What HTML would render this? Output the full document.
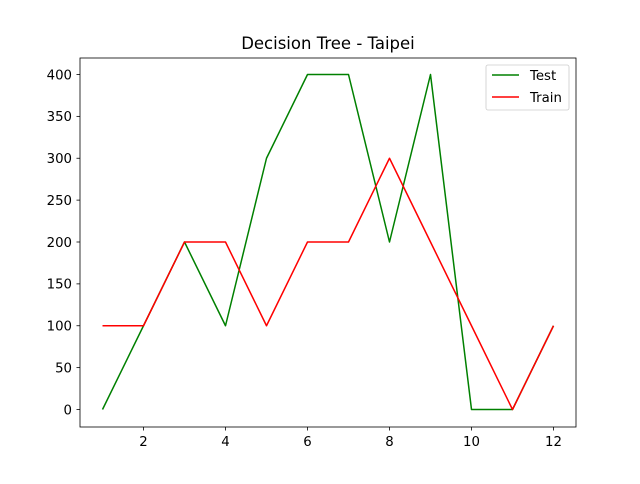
<!DOCTYPE html>
<html><head><meta charset="utf-8"><style>
html,body{margin:0;padding:0;background:#fff;}
svg text{font-family:"DejaVu Sans","Liberation Sans",sans-serif;}
</style></head><body>
<svg id="chart" width="640" height="479" viewBox="0 0 640 479" xmlns="http://www.w3.org/2000/svg">
<rect width="640" height="479" fill="#fff"/>
<text x="328" y="49" text-anchor="middle" font-size="16.5">Decision Tree - Taipei</text>
<g id="axes"></g>
<g id="series"></g>
<rect x="80" y="58" width="496" height="369" fill="none" stroke="#000" stroke-width="0.8"/>
<g id="legend"></g>
</svg>
<script>
const xValues=[1,2,3,4,5,6,7,8,9,10,11,12];
const testValues=[0,100,200,100,300,400,400,200,400,0,0,100];
const trainValues=[100,100,200,200,100,200,200,300,200,100,0,100];
const xTicks=[2,4,6,8,10,12];
const yTicks=[0,50,100,150,200,250,300,350,400];
const seriesNames=["Test","Train"];
const NS="http://www.w3.org/2000/svg";
function xs(v){return 102.5+(v-1)*41;}
function ys(v){return 409.5-v*0.8375;}
function mk(tag,attrs,parent){const e=document.createElementNS(NS,tag);for(const k in attrs)e.setAttribute(k,attrs[k]);parent.appendChild(e);return e;}
const axes=document.getElementById('axes');
xTicks.forEach(t=>{
  const l=mk('line',{x1:xs(t),x2:xs(t),y1:427,y2:430.5,stroke:'#000','stroke-width':0.8},axes);
  
  
  const tx=mk('text',{x:xs(t),y:446,'text-anchor':'middle','font-size':13.3},axes);
  tx.textContent=t;
  
  
});
yTicks.forEach(t=>{
  const l=mk('line',{x1:76.5,x2:80,y1:ys(t),y2:ys(t),stroke:'#000','stroke-width':0.8},axes);
  
  
  const tx=mk('text',{x:72,y:ys(t)+4.8,'text-anchor':'end','font-size':13.3},axes);
  tx.textContent=t;
  
  
});
const series=document.getElementById('series');
function drawLine(vals,color,name){
  const pts=vals.map((v,i)=>xs(xValues[i])+','+ys(v)).join(' ');
  const p=mk('polyline',{points:pts,fill:'none',stroke:color,'stroke-width':1.5,'stroke-linejoin':'round'},series);
  
  
}
drawLine(testValues,'green','test-line');
drawLine(trainValues,'red','train-line');
const lg=document.getElementById('legend');
const box=mk('rect',{x:486,y:65,width:83,height:45,rx:2,fill:'#fff','fill-opacity':0.8,stroke:'#ccc','stroke-width':0.8},lg);


const colors=['green','red'];
seriesNames.forEach((n,i)=>{
  const y=75+i*22;
  const l=mk('line',{x1:492,x2:519,y1:y,y2:y,stroke:colors[i],'stroke-width':1.5},lg);
  
  
  const t=mk('text',{x:530,y:y+4.8,'font-size':13.3},lg);
  t.textContent=n;
  
  
});
</script>
</body></html>
